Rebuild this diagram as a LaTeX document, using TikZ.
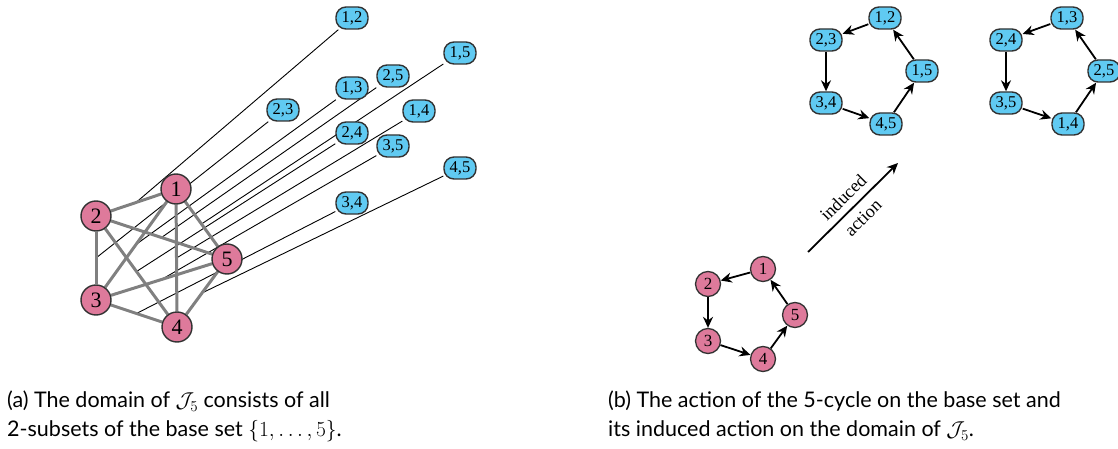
\RequirePackage{fix-cm}
\documentclass[tikz,border=0pt]{standalone}
\usepackage{fontspec}
\newfontfamily\capfont{Lato}
\newfontfamily\nodefont{Liberation Serif}
\usetikzlibrary{calc,arrows.meta,backgrounds}
\definecolor{pinkc}{RGB}{222,122,155}
\definecolor{bluec}{RGB}{96,202,242}
\definecolor{bordc}{RGB}{50,50,50}
\definecolor{edgec}{RGB}{128,128,128}
\pgfdeclarelayer{links}
\pgfsetlayers{background,links,main}
\begin{document}
\begin{tikzpicture}[x=1pt,y=-1pt,
  vbig/.style={circle,draw=bordc,line width=1.4pt,fill=pinkc,minimum size=30pt,inner sep=0pt,font=\nodefont\fontsize{22}{22}\selectfont},
  vsmall/.style={circle,draw=bordc,line width=1.3pt,fill=pinkc,minimum size=25pt,inner sep=0pt,font=\nodefont\fontsize{17}{17}\selectfont},
  pair/.style={rectangle,rounded corners=10pt,draw=bordc,line width=1.4pt,fill=bluec,minimum width=32pt,minimum height=22pt,inner sep=1pt,font=\nodefont\fontsize{16.5}{16.5}\selectfont},
  gedge/.style={draw=edgec,line width=3pt},
  link/.style={draw=black,line width=0.9pt},
  arr/.style={-{Stealth[length=11pt,width=10pt]},line width=1.8pt},
  captext/.style={font=\capfont\fontsize{21.5}{29}\selectfont,align=left,anchor=north west,inner sep=0pt}]
\useasboundingbox (0,0) rectangle (1118,449);
% left graph
\node[vbig] (v1) at (176,189) {1};
\node[vbig] (v2) at (96,216) {2};
\node[vbig] (v3) at (96,300) {3};
\node[vbig] (v4) at (177,327) {4};
\node[vbig] (v5) at (227,259) {5};
\node[pair] (p12) at (352,18) {1,2};
\node[pair] (p15) at (460,53) {1,5};
\node[pair] (p25) at (393,76) {2,5};
\node[pair] (p13) at (352,88) {1,3};
\node[pair] (p23) at (283,110) {2,3};
\node[pair] (p14) at (419,111) {1,4};
\node[pair] (p24) at (352,133) {2,4};
\node[pair] (p35) at (393,146) {3,5};
\node[pair] (p45) at (460,168) {4,5};
\node[pair] (p34) at (352,203) {3,4};
\begin{pgfonlayer}{background}
\foreach \a/\b in {1/2,1/3,1/4,1/5,2/3,2/4,2/5,3/4,3/5,4/5}
  \draw[link] ($(v\a)!0.5!(v\b)$) -- (p\a\b);
\end{pgfonlayer}
\begin{pgfonlayer}{links}
\foreach \a/\b in {1/2,1/3,1/4,1/5,2/3,2/4,2/5,3/4,3/5,4/5}
  \draw[gedge] (v\a) -- (v\b);
\end{pgfonlayer}
% right: base cycle
\node[vsmall] (s1) at (763,269) {1};
\node[vsmall] (s2) at (708,284) {2};
\node[vsmall] (s3) at (708,341) {3};
\node[vsmall] (s4) at (763,359) {4};
\node[vsmall] (s5) at (795,315) {5};
\draw[arr] (s1) -- (s2);
\draw[arr] (s2) -- (s3);
\draw[arr] (s3) -- (s4);
\draw[arr] (s4) -- (s5);
\draw[arr] (s5) -- (s1);
% induced cycles
\node[pair] (a12) at (885,18) {1,2};
\node[pair] (a23) at (826,40) {2,3};
\node[pair] (a34) at (826,103) {3,4};
\node[pair] (a45) at (886,124) {4,5};
\node[pair] (a15) at (922,71) {1,5};
\draw[arr] (a12) -- (a23);
\draw[arr] (a23) -- (a34);
\draw[arr] (a34) -- (a45);
\draw[arr] (a45) -- (a15);
\draw[arr] (a15) -- (a12);
\node[pair] (b13) at (1067,18) {1,3};
\node[pair] (b24) at (1006,40) {2,4};
\node[pair] (b35) at (1006,103) {3,5};
\node[pair] (b14) at (1068,124) {1,4};
\node[pair] (b25) at (1104,71) {2,5};
\draw[arr] (b13) -- (b24);
\draw[arr] (b24) -- (b35);
\draw[arr] (b35) -- (b14);
\draw[arr] (b14) -- (b25);
\draw[arr] (b25) -- (b13);
\coordinate (ia) at (808,252);
\coordinate (ib) at (898,163);
\draw[arr] (ia) -- node[sloped,midway,align=center,font=\nodefont\fontsize{18}{28}\selectfont] {induced\\action} (ib);
% captions
\node[captext] (capa) at (7,391) {(a) The domain of $\mathcal{J}_5$ consists of all\\2-subsets of the base set $\{1,\ldots,5\}$.};
\node[captext] (capb) at (608,391) {(b) The action of the 5-cycle on the base set and\\its induced action on the domain of $\mathcal{J}_5$.};
\end{tikzpicture}
\end{document}
